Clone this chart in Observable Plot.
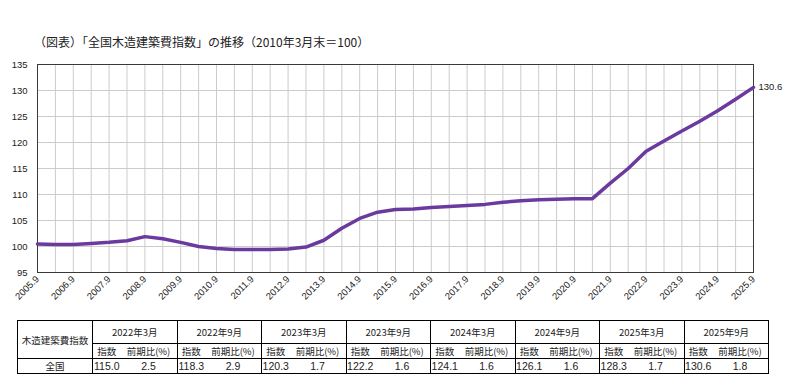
<!DOCTYPE html>
<html>
<head>
<meta charset="utf-8">
<script src="https://cdn.jsdelivr.net/npm/d3@7"></script>
<script src="https://cdn.jsdelivr.net/npm/@observablehq/plot@0.6"></script>
<style>
  html, body { margin: 0; padding: 0; background: #fff; }
  #wrap { position: relative; width: 789px; height: 377px; overflow: hidden; }
  #title { position: absolute; left: 34px; top: 34px; font-family: "Noto Sans CJK JP", sans-serif; font-size: 12px; line-height: 16px; color: #222; white-space: nowrap; }
  #chart { position: absolute; left: 0; top: 50px; }
  #tbl { position: absolute; left: 17px; top: 320px; border-collapse: collapse; table-layout: fixed; width: 751px;
         font-family: "Noto Sans CJK JP", "Liberation Sans", sans-serif; font-size: 9.5px; color: #222; }
  #tbl td { padding: 0; text-align: center; border-top: 1px solid #000; border-bottom: 1px solid #000; white-space: nowrap; overflow: hidden; }
  #tbl td.lbl { border-left: 1px solid #000; border-right: 1px solid #000; }
  #tbl td.grp { border-left: 1px solid #000; border-right: 1px solid #000; }
  #tbl td.a { border-left: 1px solid #000; }
  #tbl td.b { border-right: 1px solid #000; }
  #tbl td.num { font-family: "Liberation Sans", Arial, sans-serif; font-size: 10.5px; }
  #tbl tr.r1 td { height: 22px; }
  #tbl tr.r2 td { height: 13px; }
  #tbl tr.r3 td { height: 14px; }
</style>
</head>
<body>
<div id="wrap">
  <div id="title"></div>
  <div id="chart"></div>
  <table id="tbl"></table>
</div>
<script>
const titleText = "（図表）「全国木造建築費指数」の推移（2010年3月末＝100）";

const periods = [
  "2005.9","2006.3","2006.9","2007.3","2007.9","2008.3","2008.9","2009.3","2009.9","2010.3",
  "2010.9","2011.3","2011.9","2012.3","2012.9","2013.3","2013.9","2014.3","2014.9","2015.3",
  "2015.9","2016.3","2016.9","2017.3","2017.9","2018.3","2018.9","2019.3","2019.9","2020.3",
  "2020.9","2021.3","2021.9","2022.3","2022.9","2023.3","2023.9","2024.3","2024.9","2025.3",
  "2025.9"
];
const values = [
  100.5,100.4,100.4,100.6,100.8,101.1,101.9,101.5,100.8,100.0,
  99.6,99.4,99.4,99.4,99.5,99.9,101.2,103.5,105.4,106.6,
  107.1,107.2,107.5,107.7,107.9,108.1,108.5,108.8,109.0,109.1,
  109.2,109.2,112.2,115.0,118.3,120.3,122.2,124.1,126.1,128.3,
  130.6
];
const xTickLabels = [
  "2005.9","2006.9","2007.9","2008.9","2009.9","2010.9","2011.9","2012.9","2013.9","2014.9",
  "2015.9","2016.9","2017.9","2018.9","2019.9","2020.9","2021.9","2022.9","2023.9","2024.9","2025.9"
];
const yTicks = [95,100,105,110,115,120,125,130,135];

// table data
const tableRowHeader = "木造建築費指数";
const tablePeriods = ["2022年3月","2022年9月","2023年3月","2023年9月","2024年3月","2024年9月","2025年3月","2025年9月"];
const tableSubHeaders = ["指数","前期比(%)"];
const tableRegion = "全国";
const tableIndex = ["115.0","118.3","120.3","122.2","124.1","126.1","128.3","130.6"];
const tableChange = ["2.5","2.9","1.7","1.6","1.6","1.6","1.7","1.8"];

document.getElementById("title").textContent = titleText;

const data = periods.map((p, i) => ({period: p, value: values[i]}));

const chart = Plot.plot({
  width: 789,
  height: 265,
  marginTop: 14,
  marginBottom: 43,
  marginLeft: 37,
  marginRight: 36,
  style: {fontFamily: "'Liberation Sans', Arial, sans-serif", fontSize: "9.5px", color: "#222", background: "white"},
  x: {type: "point", domain: periods, padding: 0, label: null},
  y: {domain: [95, 135], label: null},
  marks: [
    Plot.ruleX(periods, {x: d => d, stroke: "#cccccc", strokeWidth: 1}),
    Plot.ruleY(yTicks, {y: d => d, stroke: "#cccccc", strokeWidth: 1}),
    Plot.frame({stroke: "#3a3a3a", strokeWidth: 1}),
    Plot.axisY(yTicks, {tickSize: 0, tickPadding: 10, label: null, fontSize: 9.5}),
    Plot.axisX(xTickLabels, {tickSize: 0, tickPadding: 5, tickRotate: -45, label: null, fontSize: 9.5}),
    Plot.line(data, {x: "period", y: "value", stroke: "#6b3a9e", strokeWidth: 3.5, strokeLinejoin: "round"}),
    Plot.text(data.slice(-1), {x: "period", y: "value", text: d => d.value.toFixed(1), textAnchor: "start", dx: 5, fontSize: 9.5, fill: "#222"})
  ]
});
document.getElementById("chart").appendChild(chart);

// build table
const tbl = document.getElementById("tbl");
let html = '<colgroup><col style="width:75px">';
tablePeriods.forEach(() => { html += '<col style="width:28px"><col style="width:56.5px">'; });
html += '</colgroup>';
html += '<tr class="r1"><td class="lbl" rowspan="2">' + tableRowHeader + '</td>';
tablePeriods.forEach(p => { html += '<td class="grp" colspan="2">' + p + '</td>'; });
html += '</tr><tr class="r2">';
tablePeriods.forEach(() => { html += '<td class="a">' + tableSubHeaders[0] + '</td><td class="b">' + tableSubHeaders[1] + '</td>'; });
html += '</tr><tr class="r3"><td class="lbl">' + tableRegion + '</td>';
tablePeriods.forEach((p, i) => { html += '<td class="a num">' + tableIndex[i] + '</td><td class="b num">' + tableChange[i] + '</td>'; });
html += '</tr>';
tbl.innerHTML = html;
</script>
</body>
</html>
